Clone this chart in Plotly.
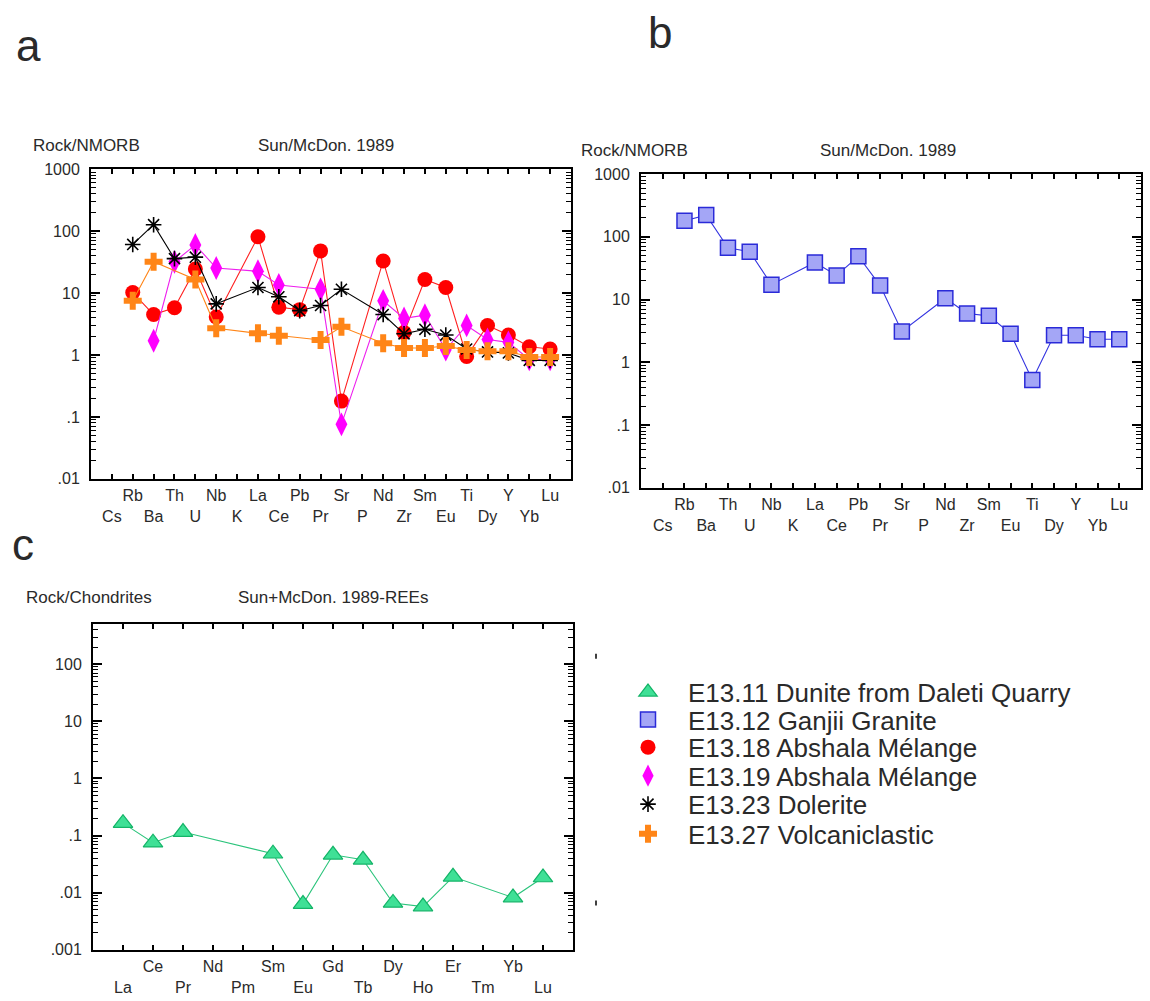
import math
import plotly.graph_objects as go

W, H = 1150, 1001

# ---------------- data ----------------
spider_elements = ["Cs", "Rb", "Ba", "Th", "U", "Nb", "K", "La", "Ce", "Pb", "Pr",
                   "Sr", "P", "Nd", "Zr", "Sm", "Eu", "Ti", "Dy", "Y", "Yb", "Lu"]
ree_elements = ["La", "Ce", "Pr", "Nd", "Pm", "Sm", "Eu", "Gd", "Tb", "Dy", "Ho",
                "Er", "Tm", "Yb", "Lu"]

N = None
# Rock/NMORB (panel a)
e1318_abshala = [N, 10.2, 4.5, 5.8, 24.5, 4.1, N, 81, 5.9, 5.4, 48, 0.18, N, 33, 2.3,
                 16.6, 12.3, 0.95, 3.0, 2.1, 1.36, 1.25]
e1319_abshala = [N, N, 1.7, 32, 60, 25.4, N, 22.5, 13.5, N, 11.5, 0.076, N, 7.5, 3.9,
                 4.4, 1.22, 3.0, 1.78, 1.6, 0.85, 0.85]
e1323_dolerite = [N, 61, 127, 36, 38, 6.7, N, 12.3, 8.7, 5.2, 6.3, 11.5, N, 4.5, 2.2,
                  2.6, 2.1, 1.25, 1.12, 1.08, 0.82, 0.82]
e1327_volcaniclastic = [N, 7.5, 32, N, 16.6, 2.7, N, 2.24, 2.05, N, 1.75, 2.85, N, 1.55,
                        1.3, 1.3, 1.4, 1.2, 1.15, 1.15, 0.93, 0.93]
# Rock/NMORB (panel b)
e1312_ganjii = [N, 181, 222, 67, 58, 17.3, N, 39, 24.3, 49, 16.7, 3.1, N, 10.5, 6.0,
                5.5, 2.86, 0.52, 2.7, 2.7, 2.33, 2.33]
# Rock/Chondrites (panel c)
e1311_dunite = [0.165, 0.075, 0.115, N, N, 0.048, 0.0063, 0.046, 0.0376, 0.0066,
                0.0057, 0.0189, N, 0.0082, 0.0184]

legend_names = ["E13.11 Dunite from Daleti Quarry", "E13.12 Ganjii Granite",
                "E13.18 Abshala Mélange", "E13.19 Abshala Mélange",
                "E13.23 Dolerite", "E13.27 Volcaniclastic"]

nmorb_ticktext = ["1000", "100", "10", "1", ".1", ".01"]
nmorb_tickvals = [1000, 100, 10, 1, 0.1, 0.01]
chon_ticktext = ["100", "10", "1", ".1", ".01", ".001"]
chon_tickvals = [100, 10, 1, 0.1, 0.01, 0.001]

FONT = "Liberation Sans, Arial, sans-serif"
TXT = "#2a2a2a"


def px(x):
    return x / W


def py(y):
    return 1 - y / H


def two_row(labels):
    # odd positions (1-based) go on the lower row
    return [lab if (i % 2 == 1) else "<br>" + lab for i, lab in enumerate(labels)]


fig = go.Figure()

spx = list(range(1, len(spider_elements) + 1))
reex = list(range(1, len(ree_elements) + 1))

styles = {
    "red": dict(symbol="circle", size=15, color="#ff0000", line=dict(color="#ff0000", width=0)),
    "mag": dict(symbol="diamond-tall", size=17, color="#ff00ff", line=dict(color="#ff00ff", width=0)),
    "blk": dict(symbol="asterisk-open", size=13, color="#000000", line=dict(color="#000000", width=1.6)),
    "org": dict(symbol="cross", size=15, color="#ff8517", line=dict(color="#ff8517", width=0)),
    "blu": dict(symbol="square", size=15, color="#a4a6f6", line=dict(color="#2a2ad8", width=1.5)),
    "grn": dict(symbol="triangle-up", size=17, color="#3fe096", line=dict(color="#14b468", width=1.2)),
}


def add_series(x, y, st, linecolor, xa, ya):
    fig.add_trace(go.Scatter(x=x, y=y, mode="lines+markers", connectgaps=True,
                             line=dict(color=linecolor, width=1.1), marker=st,
                             showlegend=False, xaxis=xa, yaxis=ya, hoverinfo="skip"))


add_series(spx, e1318_abshala, styles["red"], "#ff2020", "x", "y")
add_series(spx, e1319_abshala, styles["mag"], "#ee20ee", "x", "y")
add_series(spx, e1323_dolerite, styles["blk"], "#000000", "x", "y")
add_series(spx, e1327_volcaniclastic, styles["org"], "#ff8517", "x", "y")
add_series(spx, e1312_ganjii, styles["blu"], "#3434e0", "x2", "y2")
add_series(reex, e1311_dunite, styles["grn"], "#2cc47c", "x3", "y3")

# legend-only entries (markers only)
leg_styles = [styles["grn"], styles["blu"], styles["red"], styles["mag"], styles["blk"], styles["org"]]
leg_ids = ["legend", "legend2", "legend3", "legend4", "legend5", "legend6"]
for name, st, lid in zip(legend_names, leg_styles, leg_ids):
    fig.add_trace(go.Scatter(x=[None], y=[None], mode="markers", marker=st, name=name,
                             showlegend=True, legend=lid, xaxis="x", yaxis="y"))

leg_y = [696, 724, 752, 781, 810, 840]
legend_layouts = {}
for lid, yy in zip(leg_ids, leg_y):
    legend_layouts[lid] = dict(x=px(608), y=py(yy), xanchor="left", yanchor="middle",
                               bgcolor="rgba(0,0,0,0)", borderwidth=0, itemwidth=70,
                               font=dict(family=FONT, size=26, color=TXT))


def xaxis_cfg(domain, n, labels, anchor):
    return dict(domain=domain, anchor=anchor, range=[0, n + 1],
                tickmode="array", tickvals=list(range(1, n + 1)), ticktext=two_row(labels),
                tickangle=0, ticklabelstandoff=1,
                ticks="inside", ticklen=5, tickwidth=1.5, tickcolor="black",
                showline=True, linecolor="black", linewidth=2, mirror="ticks",
                showgrid=False, zeroline=False, fixedrange=True,
                tickfont=dict(family=FONT, size=16, color=TXT))


def yaxis_cfg(domain, rng, tv, tt, anchor):
    minor_vals = [m * 10 ** k for k in range(-4, 4) for m in range(2, 10)]
    return dict(domain=domain, anchor=anchor, type="log", range=rng,
                tickmode="array", tickvals=tv, ticktext=tt,
                ticks="inside", ticklen=9, tickwidth=1.5, tickcolor="black",
                ticklabelstandoff=6,
                minor=dict(ticks="inside", ticklen=5, tickwidth=1, tickcolor="black",
                           tickmode="array", tickvals=minor_vals, showgrid=False),
                showline=True, linecolor="black", linewidth=2, mirror="ticks",
                showgrid=False, zeroline=False, fixedrange=True,
                tickfont=dict(family=FONT, size=16, color=TXT))


fig.update_layout(
    width=W, height=H, margin=dict(l=0, r=0, t=0, b=0),
    paper_bgcolor="white", plot_bgcolor="white",
    xaxis=xaxis_cfg([px(91), px(571)], len(spider_elements), spider_elements, "y"),
    yaxis=yaxis_cfg([py(479), py(164)], [-2, 3], nmorb_tickvals, nmorb_ticktext, "x"),
    xaxis2=xaxis_cfg([px(641), px(1141)], len(spider_elements), spider_elements, "y2"),
    yaxis2=yaxis_cfg([py(488), py(169)], [-2, 3], nmorb_tickvals, nmorb_ticktext, "x2"),
    xaxis3=xaxis_cfg([px(93), px(573)], len(ree_elements), ree_elements, "y3"),
    yaxis3=yaxis_cfg([py(958), py(627)], [-3, math.log10(500)], chon_tickvals, chon_ticktext, "x3"),
    **legend_layouts,
)

annots = [
    dict(text="a", x=px(14), y=py(38), xanchor="left", size=44),
    dict(text="b", x=px(646), y=py(25), xanchor="left", size=44),
    dict(text="c", x=px(10), y=py(546), xanchor="left", size=44),
    dict(text="Rock/NMORB", x=px(31), y=py(140), xanchor="left", size=17),
    dict(text="Sun/McDon. 1989", x=px(326), y=py(140), xanchor="center", size=17),
    dict(text="Rock/NMORB", x=px(579), y=py(145), xanchor="left", size=17),
    dict(text="Sun/McDon. 1989", x=px(888), y=py(145), xanchor="center", size=17),
    dict(text="Rock/Chondrites", x=px(24), y=py(600), xanchor="left", size=17),
    dict(text="Sun+McDon. 1989-REEs", x=px(333), y=py(600), xanchor="center", size=17),
]
for a in annots:
    fig.add_annotation(text=a["text"], x=a["x"], y=a["y"], xref="paper", yref="paper",
                       xanchor=a["xanchor"], yanchor="middle", showarrow=False,
                       font=dict(family=FONT, size=a["size"], color=TXT))

# small stray tick marks right of panel c
for yy in (657, 908):
    fig.add_shape(type="line", xref="paper", yref="paper", x0=px(596), x1=px(596),
                  y0=py(yy), y1=py(yy + 5), line=dict(color="black", width=1.5))

fig.write_html("out.html")
